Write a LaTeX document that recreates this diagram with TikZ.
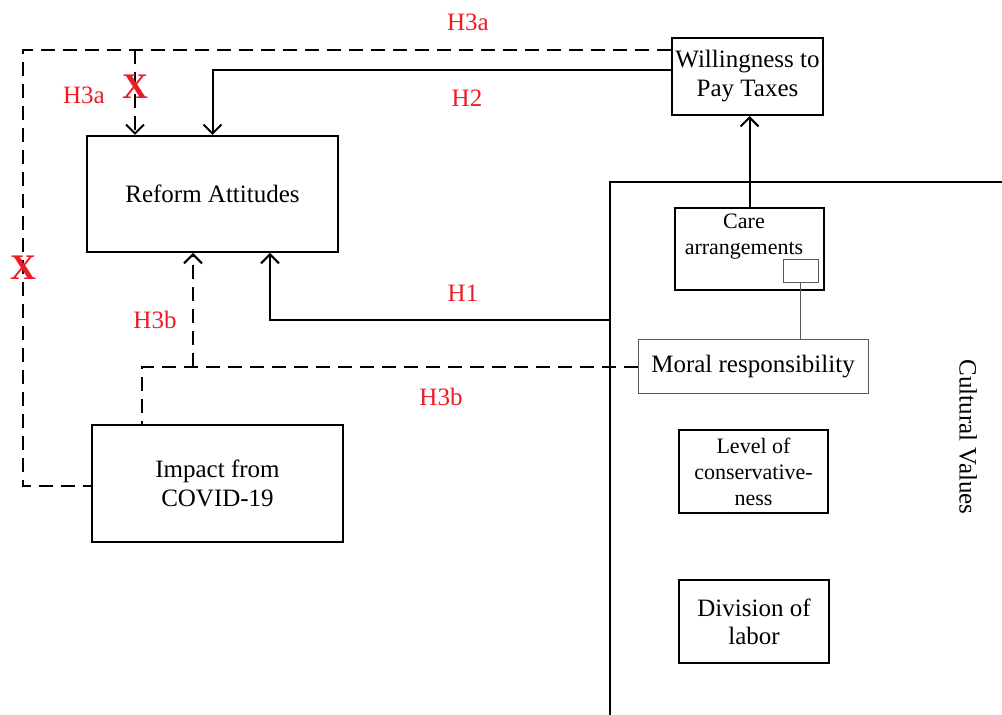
\documentclass[tikz,border=0pt]{standalone}
\usepackage{fontspec}
\setmainfont{Liberation Serif}
\usepackage{xcolor}
\usepackage{tikz}
\usetikzlibrary{arrows.meta}
\definecolor{hypred}{RGB}{237,28,36}

\begin{document}
\begin{tikzpicture}[x=0.5pt,y=-0.5pt,
  varbox/.style={draw,line width=1pt,inner sep=0pt,align=center,font=\fontsize{12.5}{14.5}\selectfont},
  smallvar/.style={varbox,font=\fontsize{11}{13}\selectfont},
  thinbox/.style={draw=black!65,line width=0.5pt,inner sep=0pt},
  hyp/.style={text=hypred,font=\fontsize{12.5}{15}\selectfont},
  cross/.style={text=hypred,inner sep=0pt,font=\fontsize{18}{18}\bfseries\selectfont},
  link/.style={line width=1pt},
  dashlink/.style={line width=1pt,dash pattern=on 7pt off 4pt},
  arr/.style={-{Straight Barb[length=4.5pt,width=9pt]}}]
\useasboundingbox (0,0) rectangle (1002,715);
%%the variables
\node[varbox,minimum width=125.5pt,minimum height=58pt] (reform) at (212.5,194) {Reform Attitudes};
\node[varbox,minimum width=75.5pt,minimum height=38.5pt] (wtp) at (747.5,76.5) {Willingness to\\Pay Taxes};
\node[varbox,minimum width=125.5pt,minimum height=58.5pt] (impact) at (217.5,483.5) {Impact from\\COVID-19};
\node[varbox,minimum width=74.5pt,minimum height=41pt] (care) at (749.5,249) {};
\node[smallvar,draw=none] (caretext) at (744,237) {Care\\arrangements};
\node[thinbox,minimum width=17.5pt,minimum height=11.5pt] (carebox) at (800.5,271.5) {};
\node[thinbox,minimum width=115pt,minimum height=27pt,font=\fontsize{12.5}{14.5}\selectfont] (moral) at (753,367) {Moral responsibility};
\node[smallvar,minimum width=74.5pt,minimum height=41.5pt,font=\fontsize{11}{13}\selectfont] (level) at (753.5,471.5) {Level of\\conservative-\\ness};
\node[varbox,minimum width=75pt,minimum height=41.5pt,font=\fontsize{12.5}{14}\selectfont] (labor) at (754,621.5) {Division of\\labor};
%%the frame round the cultural values
\path (610,182) coordinate (cvtop)
  (610,715) coordinate (cvbot)
  (1002,182) coordinate (cvright)
  (610,320) coordinate (hone);
\draw[link] (cvbot) -- (cvtop) -- (cvright);
\node[rotate=-90,font=\fontsize{12.5}{14.5}\selectfont] (cultural) at (968,437) {Cultural Values};
%%now for the solid paths
\draw[link,arr] (care.north) -- (care.north |- wtp.south);
\draw[link,arr] ([yshift=3.25pt]wtp.west) -| (reform.north);
\draw[link,arr] (hone) -| ([xshift=28.75pt]reform.south);
\draw[thinbox] (carebox.south) -- (carebox.south |- moral.north);
%%now for the dashed paths
\path (23,50) coordinate (htop)
  (23,486) coordinate (hbot)
  (135,50) coordinate (hsplit)
  (193,367) coordinate (hjoin);
\draw[dashlink] ([yshift=13.25pt]wtp.west) -- (htop) -- (hbot) -- (hbot -| impact.west);
\draw[dashlink,arr] (hsplit) -- (hsplit |- reform.north);
\draw[dashlink] (moral.west) -| ([xshift=-37.75pt]impact.north);
\draw[dashlink,arr] (hjoin) -- (hjoin |- reform.south);
%%finally the labels
\path (468,22) node[hyp] (lhatop) {H3a}
  (467,98) node[hyp] (lhtwo) {H2}
  (84,95) node[hyp] (lhaleft) {H3a}
  (463,293) node[hyp] (lhone) {H1}
  (155,320) node[hyp] (lhbleft) {H3b}
  (441,397) node[hyp] (lhbmid) {H3b}
  (135,87) node[cross] (xtop) {X}
  (23,268) node[cross] (xleft) {X};
\end{tikzpicture}
\end{document}
